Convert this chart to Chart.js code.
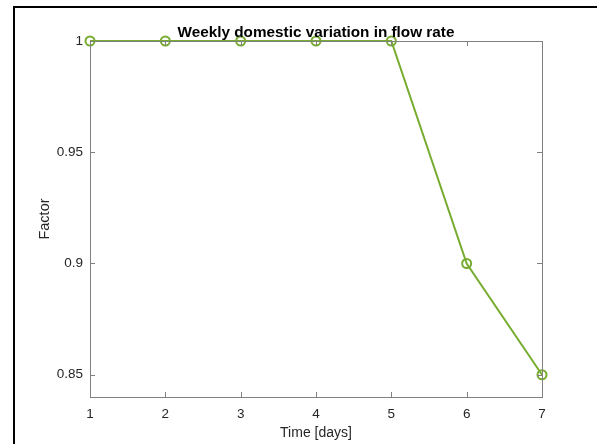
<!DOCTYPE html>
<html lang="en">
<head>
    <meta charset="UTF-8">
    <title>Weekly domestic variation in flow rate</title>
    <script src="https://cdn.jsdelivr.net/npm/chart.js"></script>
    <style>
        body {
            margin: 0;
            background-color: #fff;
        }
        #wrap {
            position: relative;
            width: 597px;
            height: 444px;
        }
    </style>
</head>
<body>
    <div id="wrap">
        <canvas id="flowChart" width="597" height="444"></canvas>
    </div>

    <script>
        // data
        const days = [1, 2, 3, 4, 5, 6, 7];
        const factor = [1, 1, 1, 1, 1, 0.9, 0.85];
        const xTicks = [1, 2, 3, 4, 5, 6, 7];
        const yTicks = [0.85, 0.9, 0.95, 1];
        const titleText = 'Weekly domestic variation in flow rate';

        const green = '#77AC30';
        const axisGrey = '#808080';
        const labelGrey = '#262626';

        // MATLAB-ish box: frame, inward ticks on all four sides, outer figure edge, title over the axes
        const matlabBox = {
            id: 'matlabBox',
            beforeDraw(chart) {
                const ctx = chart.ctx;
                ctx.save();
                ctx.strokeStyle = '#000';
                ctx.lineWidth = 2;
                ctx.beginPath();
                ctx.moveTo(14, chart.height);
                ctx.lineTo(14, 7);
                ctx.lineTo(chart.width, 7);
                ctx.stroke();
                ctx.restore();
            },
            afterDatasetsDraw(chart) {
                const { ctx, chartArea: a, scales } = chart;
                ctx.save();
                ctx.strokeStyle = axisGrey;
                ctx.lineWidth = 1;
                ctx.strokeRect(a.left + 0.5, a.top + 0.5, a.right - a.left, a.bottom - a.top);
                ctx.beginPath();
                xTicks.forEach(v => {
                    const x = Math.round(scales.x.getPixelForValue(v)) + 0.5;
                    ctx.moveTo(x, a.bottom); ctx.lineTo(x, a.bottom - 5);
                    ctx.moveTo(x, a.top); ctx.lineTo(x, a.top + 5);
                });
                yTicks.forEach(v => {
                    const y = Math.round(scales.y.getPixelForValue(v)) + 0.5;
                    ctx.moveTo(a.left, y); ctx.lineTo(a.left + 5, y);
                    ctx.moveTo(a.right, y); ctx.lineTo(a.right - 5, y);
                });
                ctx.stroke();

                ctx.fillStyle = '#000';
                ctx.font = 'bold 15.3px "Liberation Sans", Arial, sans-serif';
                ctx.textAlign = 'center';
                ctx.textBaseline = 'alphabetic';
                ctx.fillText(titleText, (a.left + a.right) / 2, a.top - 4);
                ctx.restore();
            }
        };

        new Chart(document.getElementById('flowChart'), {
            type: 'line',
            data: {
                datasets: [{
                    data: days.map((d, i) => ({ x: d, y: factor[i] })),
                    borderColor: green,
                    borderWidth: 2,
                    pointStyle: 'circle',
                    pointRadius: 4.5,
                    pointBorderWidth: 2,
                    pointBorderColor: green,
                    pointBackgroundColor: 'rgba(0,0,0,0)',
                    tension: 0,
                    clip: false
                }]
            },
            options: {
                responsive: false,
                animation: false,
                layout: {
                    padding: { top: 41, right: 55, bottom: 0, left: 32 }
                },
                plugins: {
                    legend: { display: false },
                    tooltip: { enabled: false },
                    title: { display: false }
                },
                scales: {
                    x: {
                        type: 'linear',
                        min: 1,
                        max: 7,
                        afterBuildTicks: s => { s.ticks = xTicks.map(v => ({ value: v })); },
                        afterFit: s => { s.height = 47; },
                        grid: { display: false, drawTicks: false },
                        border: { display: false },
                        ticks: {
                            padding: 9,
                            color: labelGrey,
                            font: { family: 'Liberation Sans', size: 13.5 }
                        },
                        title: {
                            display: true,
                            text: 'Time [days]',
                            color: labelGrey,
                            font: { family: 'Liberation Sans', size: 14 },
                            padding: { top: 0, bottom: 2 }
                        }
                    },
                    y: {
                        min: 0.84,
                        max: 1,
                        afterBuildTicks: s => { s.ticks = yTicks.map(v => ({ value: v })); },
                        afterFit: s => { s.width = 58; },
                        grid: { display: false, drawTicks: false },
                        border: { display: false },
                        ticks: {
                            padding: 7,
                            color: labelGrey,
                            font: { family: 'Liberation Sans', size: 13.5 },
                            callback: v => String(+v.toFixed(2))
                        },
                        title: {
                            display: true,
                            text: 'Factor',
                            color: labelGrey,
                            font: { family: 'Liberation Sans', size: 14.5 },
                            padding: { top: 4, bottom: 0 }
                        }
                    }
                }
            },
            plugins: [matlabBox]
        });
    </script>
</body>
</html>
